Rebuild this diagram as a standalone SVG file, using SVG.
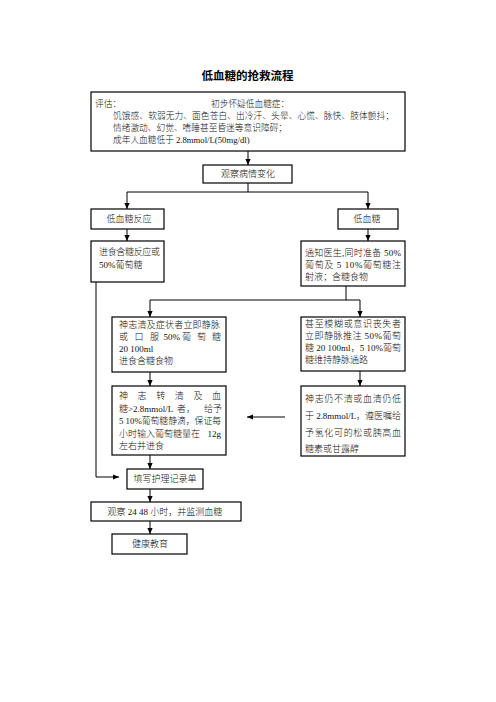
<svg xmlns="http://www.w3.org/2000/svg" width="496" height="702" viewBox="0 0 496 702">
<defs>
<marker id="ah" viewBox="0 0 6 6" refX="6" refY="3" markerWidth="6" markerHeight="6" markerUnits="userSpaceOnUse" orient="auto">
<path d="M0,0.4 L6,3 L0,5.6 Z" fill="#000"/>
</marker>
<style>
.bx{fill:#fff;stroke:#000;stroke-width:1.2}
.t{font-family:"Liberation Serif","Noto Sans CJK SC",serif;font-size:9px;font-weight:300;fill:#111}
.s{font-size:8.7px}
.c{text-anchor:middle}
.e{text-anchor:end}
.ttl{font-family:"Liberation Serif","Noto Sans CJK SC",serif;font-size:11.5px;font-weight:bold;text-anchor:middle;fill:#000}
.ln{fill:none;stroke:#000;stroke-width:1}
.ar{fill:none;stroke:#000;stroke-width:1;marker-end:url(#ah)}
</style>
</defs>
<rect width="496" height="702" fill="#fff"/>
<text class="ttl" x="247.5" y="79.5">低血糖的抢救流程</text>

<g id="connectors">
<path class="ar" d="M248,150 V165"/>
<path class="ln" d="M248,183 V192 M127,192 H368"/>
<path class="ar" d="M127,192 V209"/>
<path class="ar" d="M368,192 V209"/>
<path class="ar" d="M127,229 V241"/>
<path class="ar" d="M368,229 V241"/>
<path class="ln" d="M96,282 V477" stroke="#444"/>
<path class="ar" d="M96,477 H119" stroke="#444"/>
<path class="ln" d="M346,286 V300 M150,300 H360"/>
<path class="ar" d="M150,300 V317"/>
<path class="ar" d="M360,300 V317"/>
<path class="ar" d="M150,372 V386"/>
<path class="ar" d="M360,371 V386"/>
<path class="ar" d="M285,417 H247"/>
<path class="ar" d="M150,455 V469"/>
<path class="ar" d="M150,489 V502"/>
<path class="ar" d="M150,521 V534"/>
</g>

<g id="assess">
<rect class="bx" x="91" y="92" width="314" height="59"/>
<text class="t s" x="95" y="106.8">评估：</text>
<text class="t s" x="211" y="106.8">初步怀疑低血糖症：</text>
<text class="t s" x="113" y="118.8" textLength="281" lengthAdjust="spacing">饥饿感、软弱无力、面色苍白、出冷汗、头晕、心慌、脉快、肢体颤抖；</text>
<text class="t s" x="113" y="131.3" textLength="174" lengthAdjust="spacing">情绪激动、幻觉、嗜睡甚至昏迷等意识障碍；</text>
<text class="t s" x="113" y="143.3">成年人血糖低于 2.8mmol/L(50mg/dl)</text>
</g>

<g id="observe">
<rect class="bx" x="203" y="165" width="89" height="18"/>
<text class="t c" x="248" y="177.4">观察病情变化</text>
</g>

<g id="reaction">
<rect class="bx" x="91" y="209" width="73" height="20"/>
<text class="t c" x="129" y="222.4">低血糖反应</text>
</g>

<g id="hypo">
<rect class="bx" x="338" y="209" width="60" height="20"/>
<text class="t c" x="367" y="222.4">低血糖</text>
</g>

<g id="eat">
<rect class="bx" x="91" y="241" width="73" height="41"/>
<text class="t" x="99" y="255" textLength="61" lengthAdjust="spacing">进食含糖反应或</text>
<text class="t" x="99" y="267.5">50%葡萄糖</text>
</g>

<g id="notify">
<rect class="bx" x="301" y="241" width="104" height="45"/>
<text class="t" x="305" y="255.5" textLength="96" lengthAdjust="spacing">通知医生,同时准备 50%</text>
<text class="t" x="305" y="267.5" textLength="96" lengthAdjust="spacing">葡萄及 5 10%葡萄糖注</text>
<text class="t" x="305" y="280">射液；含糖食物</text>
</g>

<g id="conscious">
<rect class="bx" x="112" y="317" width="114" height="55"/>
<text class="t" x="119" y="327.5" textLength="101" lengthAdjust="spacing">神志清及症状者立即静脉</text>
<text class="t" y="340"><tspan x="119">或</tspan><tspan x="134.5">口</tspan><tspan x="150">服</tspan><tspan x="163.5">50%</tspan><tspan x="182">葡</tspan><tspan x="197">萄</tspan><tspan x="212">糖</tspan></text>
<text class="t" x="119" y="352">20 100ml</text>
<text class="t" x="119" y="364">进食含糖食物</text>
</g>

<g id="unconscious">
<rect class="bx" x="301" y="317" width="104" height="54"/>
<text class="t" x="305" y="326.5" textLength="96" lengthAdjust="spacing">甚至模糊或意识丧失者</text>
<text class="t" x="305" y="338.5" textLength="96" lengthAdjust="spacing">立即静脉推注 50%葡萄</text>
<text class="t" x="305" y="350.5" textLength="96" lengthAdjust="spacing">糖 20 100ml，5 10%葡萄</text>
<text class="t" x="305" y="362.5">糖维持静脉通路</text>
</g>

<g id="recover">
<rect class="bx" x="112" y="386" width="114" height="69"/>
<text class="t" x="119" y="399" textLength="102" lengthAdjust="spacing">神志转清及血</text>
<text class="t" y="411.5"><tspan x="119">糖&gt;2.8mmol/L</tspan><tspan x="177">者，</tspan><tspan x="204">给予</tspan></text>
<text class="t" x="119" y="424" textLength="102" lengthAdjust="spacingAndGlyphs">5 10%葡萄糖静滴，保证每</text>
<text class="t" x="119" y="436.5">小时输入葡萄糖量在</text>
<text class="t e" x="221" y="436.5">12g</text>
<text class="t" x="119" y="449">左右并进食</text>
</g>

<g id="still">
<rect class="bx" x="301" y="386" width="104" height="70"/>
<text class="t" x="305" y="401.5" textLength="96" lengthAdjust="spacing">神志仍不清或血清仍低</text>
<text class="t" x="305" y="418.5" textLength="96" lengthAdjust="spacing">于 2.8mmol/L，遵医嘱给</text>
<text class="t" x="305" y="435.5" textLength="96" lengthAdjust="spacing">予氢化可的松或胰高血</text>
<text class="t" x="305" y="452">糖素或甘露醇</text>
</g>

<g id="record">
<rect class="bx" x="127" y="469" width="76" height="20"/>
<text class="t c" x="165" y="482.4">填写护理记录单</text>
</g>

<g id="monitor">
<rect class="bx" x="91" y="502" width="150" height="19"/>
<text class="t c" x="165" y="515">观察 24 48 小时，并监测血糖</text>
</g>

<g id="edu">
<rect class="bx" x="112" y="534" width="75" height="20"/>
<text class="t c" x="150" y="547.4">健康教育</text>
</g>
</svg>
